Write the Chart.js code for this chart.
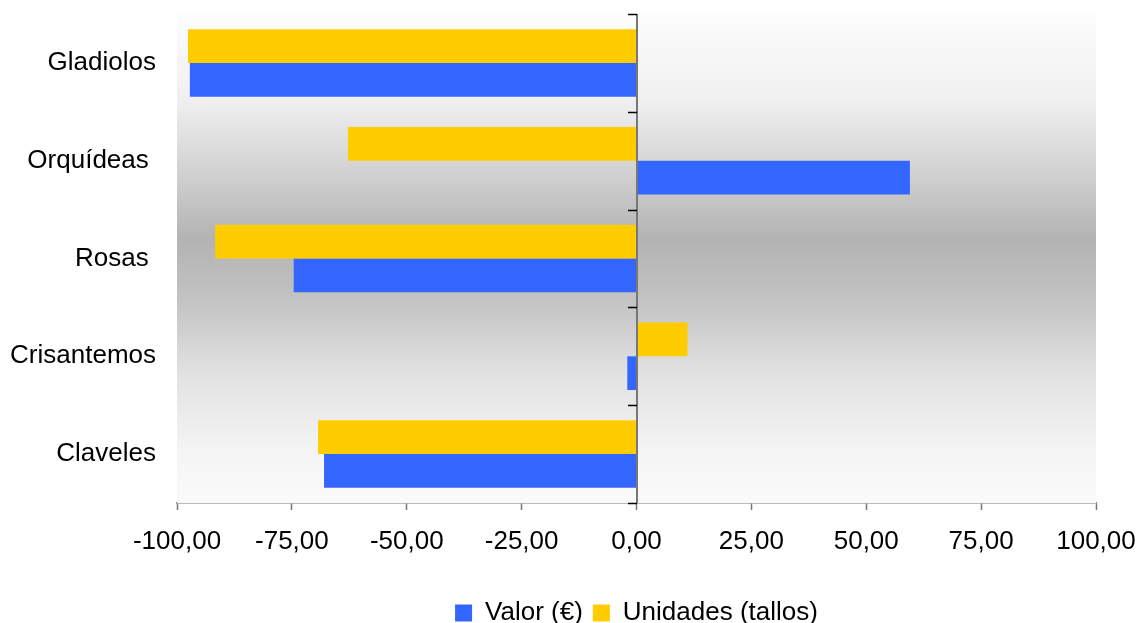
<!DOCTYPE html>
<html>
<head>
<meta charset="utf-8">
<title>Flores</title>
<script src="https://cdn.jsdelivr.net/npm/chart.js@4/dist/chart.umd.min.js"></script>
<style>
  html, body { margin: 0; padding: 0; background: #fff; }
  #wrap { width: 1145px; height: 623px; }
</style>
</head>
<body>
<div id="wrap"><canvas id="floresChart" width="1145" height="623"></canvas></div>
<script>
const categories = ['Gladiolos', 'Orquídeas ', 'Rosas ', 'Crisantemos', 'Claveles'];
const valor = [-97.2, 59.5, -74.6, -2.0, -68.0];
const unidades = [-97.6, -62.8, -91.7, 11.1, -69.3];

const FONT = "'Liberation Sans', Arial, sans-serif";

// grey band behind the bars, light at the edges and darkest just above the middle
const plotBackground = {
    id: 'plotBackground',
    beforeDatasetsDraw(chart) {
        const { ctx, chartArea: a } = chart;
        const g = ctx.createLinearGradient(0, a.top, 0, a.bottom);
        g.addColorStop(0, '#fdfdfd');
        g.addColorStop(0.18, '#efefef');
        g.addColorStop(0.33, '#d0d0d0');
        g.addColorStop(0.46, '#b3b3b3');
        g.addColorStop(0.58, '#c2c2c2');
        g.addColorStop(0.74, '#e2e2e2');
        g.addColorStop(0.9, '#f5f5f5');
        g.addColorStop(1, '#fafafa');
        ctx.save();
        ctx.fillStyle = g;
        ctx.fillRect(a.left, a.top, a.right - a.left, a.bottom - a.top);
        ctx.restore();
    }
};

// zero line drawn over the bars, with small ticks between categories
const zeroAxis = {
    id: 'zeroAxis',
    afterDatasetsDraw(chart) {
        const { ctx, chartArea: a, scales: { x, y } } = chart;
        const x0 = Math.round(x.getPixelForValue(0));
        const half = (y.getPixelForValue(1) - y.getPixelForValue(0)) / 2;
        ctx.save();
        ctx.strokeStyle = '#777';
        ctx.lineWidth = 2;
        ctx.beginPath();
        ctx.moveTo(x0, a.top);
        ctx.lineTo(x0, a.bottom);
        ctx.stroke();
        ctx.strokeStyle = '#000';
        ctx.lineWidth = 1.5;
        for (let i = 0; i <= categories.length; i++) {
            const py = Math.round(y.getPixelForValue(0) - half + i * 2 * half) + 0.5;
            ctx.beginPath();
            ctx.moveTo(x0 - 9, py);
            ctx.lineTo(x0, py);
            ctx.stroke();
        }
        ctx.restore();
    }
};

new Chart(document.getElementById('floresChart'), {
    type: 'bar',
    data: {
        labels: categories,
        datasets: [{
            label: 'Unidades (tallos)',
            data: unidades,
            backgroundColor: '#FFCC00',
            borderWidth: 0
        }, {
            label: 'Valor (€)',
            data: valor,
            backgroundColor: '#3366FF',
            borderWidth: 0
        }]
    },
    options: {
        indexAxis: 'y',
        responsive: false,
        animation: false,
        barPercentage: 1,
        categoryPercentage: 0.69,
        layout: { padding: { top: 14, right: 49, left: 0, bottom: -13 } },
        plugins: {
            tooltip: { enabled: false },
            legend: {
                position: 'bottom',
                fullSize: false,
                reverse: true,
                labels: {
                    color: '#000',
                    font: { family: FONT, size: 26 },
                    boxWidth: 17,
                    boxHeight: 17,
                    padding: 10
                }
            }
        },
        scales: {
            x: {
                min: -100,
                max: 100,
                ticks: {
                    stepSize: 25,
                    color: '#000',
                    font: { family: FONT, size: 26 },
                    padding: 16,
                    maxRotation: 0,
                    callback: v => v.toFixed(2).replace('.', ',')
                },
                grid: {
                    drawOnChartArea: false,
                    tickColor: '#777',
                    tickLength: 7,
                    tickWidth: 1.5
                },
                border: { display: true, color: '#777', width: 1.5 },
                afterFit(scale) {
                    scale.height = 87;
                    scale.paddingLeft = 0;
                    scale.paddingRight = 0;
                }
            },
            y: {
                ticks: {
                    color: '#000',
                    font: { family: FONT, size: 26 },
                    padding: 21
                },
                grid: { display: false, drawTicks: false },
                border: { display: false },
                afterFit(scale) {
                    scale.width = 177;
                    scale.paddingTop = 0;
                    scale.paddingBottom = 0;
                }
            }
        }
    },
    plugins: [plotBackground, zeroAxis]
});
</script>
</body>
</html>
